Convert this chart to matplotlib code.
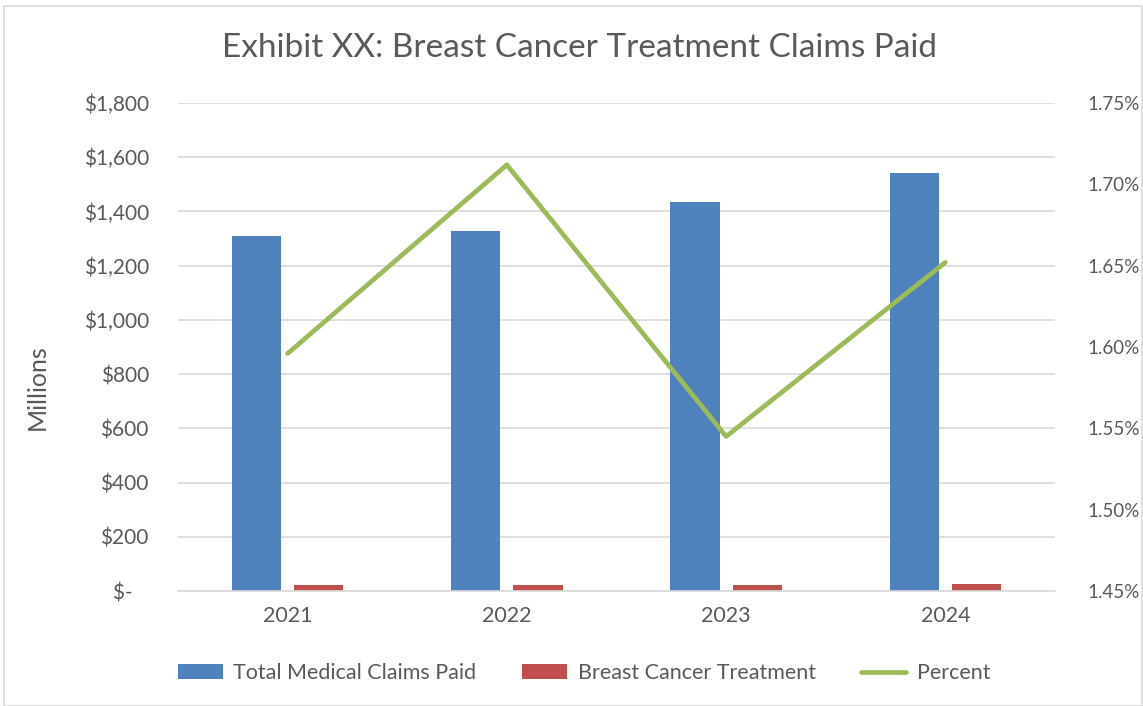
import matplotlib
matplotlib.use("Agg")
import matplotlib.pyplot as plt
from matplotlib.patches import Rectangle
import numpy as np

years = ["2021", "2022", "2023", "2024"]
total_claims = [1310, 1328, 1435, 1542]          # $ millions
breast_cancer = [20.9, 22.7, 22.2, 25.5]         # $ millions
percent = [1.596, 1.712, 1.545, 1.652]           # %
left_ticks = [0, 200, 400, 600, 800, 1000, 1200, 1400, 1600, 1800]
left_labels = ["$-   ", "$200", "$400", "$600", "$800", "$1,000", "$1,200", "$1,400", "$1,600", "$1,800"]
right_ticks = [1.45, 1.50, 1.55, 1.60, 1.65, 1.70, 1.75]

plt.rcParams['font.family'] = ['Lato', 'DejaVu Sans']
txt = "#595959"
blue, red, green = "#4F81BD", "#C0504D", "#9BBB59"

W, H = 1143, 706
fig = plt.figure(figsize=(W / 100, H / 100), dpi=100)
fig.patches.append(Rectangle((4 / W, 0), (W - 5) / W, 1 - 6 / H, transform=fig.transFigure,
                             fill=False, edgecolor="#D9D9D9", linewidth=1.2))

ax = fig.add_axes([178 / W, 1 - 591 / H, (1055 - 178) / W, (591 - 103) / H])
x = np.arange(len(years))
bw = 0.224
off = 0.142
ax.bar(x - off, total_claims, bw, color=blue, label="Total Medical Claims Paid", zorder=2)
ax.bar(x + off, breast_cancer, bw, color=red, label="Breast Cancer Treatment", zorder=2)
ax.set_xlim(-0.5, len(years) - 0.5)
ax.set_ylim(0, 1800)
ax.set_yticks(left_ticks)
ax.set_yticklabels(left_labels)
ax.set_xticks(x)
ax.set_xticklabels(years)
ax.grid(axis="y", color="#D9D9D9", linewidth=1.2, zorder=0)
ax.set_axisbelow(True)
for s in ["top", "left", "right"]:
    ax.spines[s].set_visible(False)
ax.spines["bottom"].set_color("#D9D9D9")
ax.spines["bottom"].set_linewidth(1.2)
ax.tick_params(axis="both", length=0, colors=txt)
ax.tick_params(axis="y", labelsize=15, pad=21)
ax.tick_params(axis="x", labelsize=15.5, pad=11)

fig.text(37 / W, 1 - 387 / H, "Millions", rotation=90, ha="center", va="center",
         fontsize=18, color=txt)

ax2 = ax.twinx()
ax2.plot(x, percent, color=green, linewidth=3.4, solid_capstyle="round", label="Percent", zorder=3)
ax2.set_ylim(1.45, 1.75)
ax2.set_yticks(right_ticks)
ax2.set_yticklabels([f"{t:.2f}%" for t in right_ticks])
for s in ["top", "left", "right", "bottom"]:
    ax2.spines[s].set_visible(False)
ax2.tick_params(axis="y", length=0, labelsize=13.5, colors=txt, pad=23)

fig.text(580 / W, 1 - 48 / H, "Exhibit XX: Breast Cancer Treatment Claims Paid",
         ha="center", va="center", fontsize=24, color=txt)

h1, l1 = ax.get_legend_handles_labels()
h2, l2 = ax2.get_legend_handles_labels()
leg = fig.legend(h1 + h2, l1 + l2, loc="center", bbox_to_anchor=(584 / W, 1 - 673 / H),
                 ncol=3, frameon=False, fontsize=15.5, labelcolor=txt,
                 handlelength=2.1, handleheight=0.65, columnspacing=2.1, handletextpad=0.5)

fig.savefig("out.png", dpi=100)
